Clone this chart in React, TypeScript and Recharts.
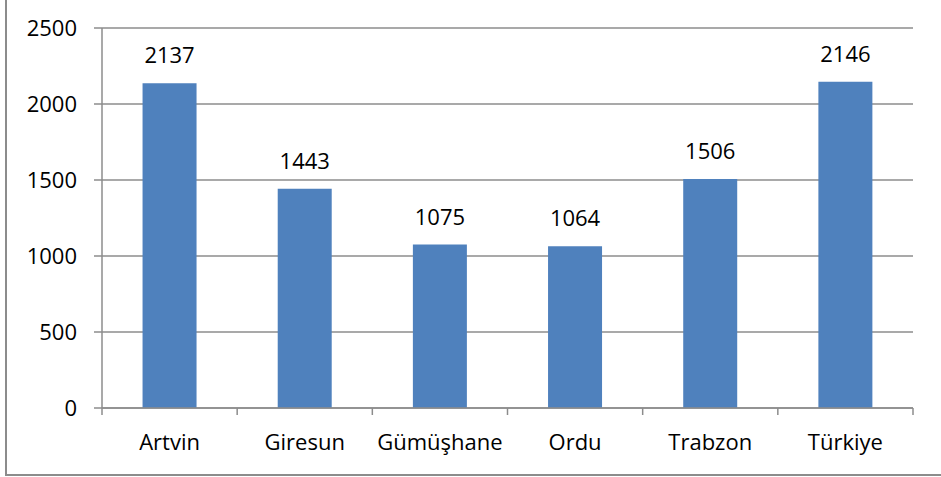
import React from 'react';
import { BarChart, Bar, XAxis, YAxis, CartesianGrid, LabelList } from 'recharts';

const categories = ['Artvin', 'Giresun', 'Gümüşhane', 'Ordu', 'Trabzon', 'Türkiye'];
const values = [2137, 1443, 1075, 1064, 1506, 2146];
const yTicks = [0, 500, 1000, 1500, 2000, 2500];

const data = categories.map((name, i) => ({ name, value: values[i] }));

const FONT = '"Open Sans", sans-serif';
const GRAY = '#8c8c8c';

const XTick = (props: any) => {
  const { x, y, payload, width, visibleTicksCount, index } = props;
  const band = width / visibleTicksCount;
  const left = x - band / 2;
  return (
    <g>
      <line x1={left} y1={y} x2={left} y2={y + 7} stroke={GRAY} strokeWidth={1.5} />
      {index === visibleTicksCount - 1 && (
        <line x1={x + band / 2} y1={y} x2={x + band / 2} y2={y + 7} stroke={GRAY} strokeWidth={1.5} />
      )}
      <text x={x} y={y + 42} textAnchor="middle" fontFamily={FONT} fontSize={22} fill="#000">
        {payload.value}
      </text>
    </g>
  );
};

export default function App() {
  return (
    <div style={{ position: 'absolute', left: 0, top: 0, width: 941, height: 477, background: '#fff' }}>
      <div
        style={{
          position: 'absolute',
          left: 5,
          top: -5,
          width: 960,
          height: 481,
          borderLeft: `2px solid ${GRAY}`,
          borderBottom: `2px solid ${GRAY}`,
          boxSizing: 'border-box',
        }}
      />
      <div style={{ position: 'absolute', left: 0, top: 0 }}>
        <BarChart
          width={941}
          height={477}
          data={data}
          margin={{ top: 28, right: 28, bottom: 0, left: 0 }}
          barCategoryGap="30%"
        >
          <CartesianGrid horizontal vertical={false} stroke={GRAY} strokeWidth={1.5} />
          <XAxis
            dataKey="name"
            tickLine={false}
            tickSize={0}
            tickMargin={0}
            height={69}
            axisLine={{ stroke: GRAY, strokeWidth: 1.5 }}
            tick={<XTick />}
            interval={0}
          />
          <YAxis
            width={102}
            domain={[0, 2500]}
            ticks={yTicks}
            interval={0}
            tickSize={8}
            tickMargin={17}
            axisLine={{ stroke: GRAY, strokeWidth: 1.5 }}
            tickLine={{ stroke: GRAY, strokeWidth: 1.5 }}
            tick={{ fontFamily: FONT, fontSize: 22, fill: '#000' }}
          />
          <Bar dataKey="value" fill="#4F81BD" isAnimationActive={false}>
            <LabelList
              dataKey="value"
              position="top"
              offset={20}
              style={{ fontFamily: FONT, fontSize: 22, fill: '#000' }}
            />
          </Bar>
        </BarChart>
      </div>
    </div>
  );
}
